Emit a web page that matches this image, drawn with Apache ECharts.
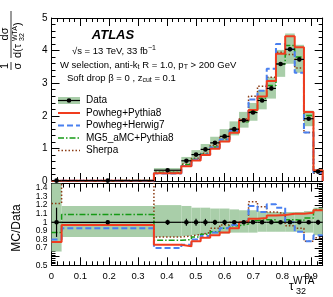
<!DOCTYPE html>
<html><head><meta charset="utf-8">
<script src="https://cdn.jsdelivr.net/npm/echarts/dist/echarts.min.js"></script>
<style>html,body{margin:0;padding:0;background:#fff}#c{width:333px;height:297px}</style>
</head><body><div id="c"></div>
<script>
// ---- data ----
const binEdges = [0, 0.035, 0.355, 0.45, 0.485, 0.517, 0.55, 0.583, 0.617, 0.65, 0.683, 0.714, 0.746, 0.778, 0.81, 0.843, 0.875, 0.908, 0.94];
const dataVals = [0.01, 0.012, 0.33, 0.62, 0.81, 0.97, 1.17, 1.37, 1.59, 1.86, 2.1, 2.47, 2.84, 3.59, 4.04, 3.73, 1.91, 0.29];
const dataStatErr = [0.002, 0.001, 0.01, 0.02, 0.03, 0.03, 0.03, 0.03, 0.03, 0.04, 0.04, 0.04, 0.05, 0.05, 0.06, 0.06, 0.04, 0.01];
const bandRelUp = [1.45, 1.19, 1.2, 1.19, 1.17, 1.17, 1.16, 1.16, 1.15, 1.14, 1.14, 1.13, 1.12, 1.12, 1.12, 1.12, 1.13, 1.17];
const bandRelDown = [0.66, 0.83, 0.83, 0.84, 0.85, 0.86, 0.86, 0.87, 0.88, 0.88, 0.88, 0.89, 0.89, 0.89, 0.89, 0.89, 0.88, 0.85];
const powhegPythia8 = [0.008, 0.012, 0.24, 0.45, 0.63, 0.80, 0.99, 1.21, 1.48, 1.86, 2.18, 2.59, 3.07, 3.90, 4.44, 4.10, 2.12, 0.33];
const powhegHerwig7 = [0.008, 0.011, 0.23, 0.46, 0.65, 0.81, 1.03, 1.27, 1.54, 1.86, 2.50, 2.77, 3.44, 4.20, 4.04, 3.32, 1.49, 0.25];
const mg5Pythia8 = [0.009, 0.013, 0.26, 0.50, 0.67, 0.83, 1.04, 1.27, 1.53, 1.82, 2.14, 2.54, 2.93, 3.59, 4.16, 3.80, 2.01, 0.33];
const sherpa = [0.012, 0.019, 0.27, 0.52, 0.70, 0.85, 1.09, 1.33, 1.59, 1.90, 2.60, 2.91, 3.18, 3.95, 3.88, 3.47, 1.49, 0.24];
const ratioStatErr = [0.17, 0.02, 0.03, 0.04, 0.04, 0.04, 0.03, 0.03, 0.02, 0.02, 0.02, 0.02, 0.02, 0.015, 0.015, 0.015, 0.02, 0.03];
const ratioPowhegPythia8 = [0.77, 0.97, 0.74, 0.72, 0.78, 0.82, 0.85, 0.88, 0.93, 1.0, 1.04, 1.05, 1.08, 1.085, 1.1, 1.1, 1.11, 1.14];
const ratioPowhegHerwig7 = [0.80, 0.93, 0.70, 0.74, 0.80, 0.84, 0.88, 0.93, 0.97, 1.0, 1.19, 1.12, 1.21, 1.17, 1.0, 0.89, 0.78, 0.85];
const ratioMg5Pythia8 = [0.88, 1.09, 0.79, 0.80, 0.83, 0.86, 0.89, 0.93, 0.96, 0.98, 1.02, 1.03, 1.03, 1.0, 1.03, 1.02, 1.05, 1.15];
const ratioSherpa = [1.22, 1.6, 0.83, 0.84, 0.86, 0.88, 0.93, 0.97, 1.0, 1.02, 1.24, 1.18, 1.12, 1.1, 0.96, 0.93, 0.78, 0.82];
const legendNames = ['Data', 'Powheg+Pythia8', 'Powheg+Herwig7', 'MG5_aMC+Pythia8', 'Sherpa'];

// ---- styling ----
const FONT = 'Liberation Sans, Arial, Helvetica, sans-serif';
const C_BAND = '#a9cea9', C_RED = '#f03c1e', C_BLUE = '#4a80f0', C_GREEN = '#169a16', C_BROWN = '#8a3a12';
const DASH_BLUE = [6, 3], DASH_GREEN = [6, 2, 1.5, 2], DASH_BROWN = [1.5, 2];

function stepPts(edges, vals, drop) {
  const pts = [];
  if (drop) pts.push([edges[0], 0]);
  for (let i = 0; i < vals.length; i++) { pts.push([edges[i], vals[i]]); pts.push([edges[i + 1], vals[i]]); }
  if (drop) pts.push([edges[edges.length - 1], 0]);
  return pts;
}
function xAx(gi, pos, showLabel) {
  return { type: 'value', gridIndex: gi, position: pos, min: 0, max: 0.94, interval: 0.1,
    axisLine: { show: true, onZero: false, lineStyle: { color: '#000', width: 1 } },
    axisTick: { show: true, inside: true, length: 8, lineStyle: { color: '#000' } },
    minorTick: { show: true, splitNumber: 5, length: 4, lineStyle: { color: '#000' } },
    splitLine: { show: false }, minorSplitLine: { show: false },
    axisLabel: { show: showLabel, fontSize: 9.5, color: '#000', margin: 6, showMinLabel: true, showMaxLabel: false, hideOverlap: false, fontFamily: FONT } };
}
function yAx(gi, pos, min, max, interval, showLabel, fs, showMax) {
  return { type: 'value', gridIndex: gi, position: pos, min, max, interval,
    axisLine: { show: true, onZero: false, lineStyle: { color: '#000', width: 1 } },
    axisTick: { show: true, inside: true, length: 8, lineStyle: { color: '#000' } },
    minorTick: { show: true, splitNumber: 5, length: 4, lineStyle: { color: '#000' } },
    splitLine: { show: false }, minorSplitLine: { show: false },
    axisLabel: { show: showLabel, fontSize: fs, color: '#000', margin: 4, showMinLabel: true, showMaxLabel: showMax, hideOverlap: false, fontFamily: FONT } };
}
function lineSeries(pts, xi, yi, color, type, width, z) {
  return { type: 'line', xAxisIndex: xi, yAxisIndex: yi, data: pts, showSymbol: false, symbol: 'none',
    animation: false, z, clip: true, silent: true,
    lineStyle: { color, width, type } };
}
function bandSeries(items, xi, yi) {
  return { type: 'custom', xAxisIndex: xi, yAxisIndex: yi, z: 1, animation: false, silent: true,
    encode: { x: [0, 1], y: [2, 3] }, data: items,
    renderItem: function (params, api) {
      const a = api.coord([api.value(0), api.value(2)]);
      const b = api.coord([api.value(1), api.value(3)]);
      const r = echarts.graphic.clipRectByRect(
        { x: a[0], y: a[1], width: b[0] - a[0], height: b[1] - a[1] },
        { x: params.coordSys.x, y: params.coordSys.y, width: params.coordSys.width, height: params.coordSys.height });
      if (!r) return null;
      return { type: 'rect', shape: r, style: { fill: C_BAND } };
    } };
}
function pointSeries(items, xi, yi) {
  return { type: 'custom', xAxisIndex: xi, yAxisIndex: yi, z: 10, animation: false, silent: true,
    encode: { x: 0, y: 1 }, data: items,
    renderItem: function (params, api) {
      const xc = api.value(0), v = api.value(1), lo = api.value(2), hi = api.value(3), e = api.value(4);
      const p = api.coord([xc, v]), pl = api.coord([lo, v]), ph = api.coord([hi, v]);
      const pt = api.coord([xc, v + e]), pb = api.coord([xc, v - e]);
      const st = { stroke: '#000', lineWidth: 1.2 };
      return { type: 'group', children: [
        { type: 'line', shape: { x1: pl[0], y1: p[1], x2: ph[0], y2: p[1] }, style: st },
        { type: 'line', shape: { x1: p[0], y1: pt[1], x2: p[0], y2: pb[1] }, style: st },
        { type: 'circle', shape: { cx: p[0], cy: p[1], r: 2.3 }, style: { fill: '#000' } }
      ] };
    } };
}

const mainBand = [], ratioBand = [], mainPts = [], ratioPts = [];
for (let i = 0; i < dataVals.length; i++) {
  const lo = binEdges[i], hi = binEdges[i + 1], xc = (lo + hi) / 2;
  mainBand.push([lo, hi, dataVals[i] * bandRelUp[i], dataVals[i] * bandRelDown[i]]);
  ratioBand.push([lo, hi, bandRelUp[i], bandRelDown[i]]);
  mainPts.push([xc, dataVals[i], lo, hi, dataStatErr[i]]);
  ratioPts.push([xc, 1, lo, hi, ratioStatErr[i]]);
}

// ---- legend & texts (graphic) ----
const legY = [100.5, 113, 125.5, 138, 150.5];
const legStyles = [null, [C_RED, 'solid', 2], [C_BLUE, DASH_BLUE, 2], [C_GREEN, DASH_GREEN, 1.5], [C_BROWN, DASH_BROWN, 1.5]];
const graphics = [];
legendNames.forEach((name, i) => {
  const y = legY[i];
  if (i === 0) {
    graphics.push({ type: 'rect', shape: { x: 58, y: y - 3.5, width: 22, height: 7 }, style: { fill: C_BAND } });
    graphics.push({ type: 'line', shape: { x1: 58, y1: y, x2: 80, y2: y }, style: { stroke: '#000', lineWidth: 1.2 } });
    graphics.push({ type: 'circle', shape: { cx: 69, cy: y, r: 2.3 }, style: { fill: '#000' } });
  } else {
    const s = legStyles[i];
    graphics.push({ type: 'line', shape: { x1: 58, y1: y, x2: 80, y2: y }, style: { stroke: s[0], lineWidth: s[2], lineDash: s[1] === 'solid' ? null : s[1] } });
  }
  graphics.push({ type: 'text', style: { text: name, x: 86, y: y, fontSize: 10, fontFamily: FONT, fill: '#000', verticalAlign: 'middle' } });
});
const rich = { sub: { fontSize: 7, padding: [5, 0, 0, 0], fontFamily: FONT }, sup: { fontSize: 7, padding: [0, 0, 5, 0], fontFamily: FONT } };
graphics.push({ type: 'text', style: { text: 'ATLAS', x: 113, y: 35, fontSize: 13, fontWeight: 'bold', fontStyle: 'italic', fontFamily: FONT, fill: '#000', align: 'center', verticalAlign: 'middle' } });
graphics.push({ type: 'text', style: { text: '√s = 13 TeV, 33 fb{sup|−1}', x: 72, y: 51, fontSize: 9.5, fontFamily: FONT, fill: '#000', verticalAlign: 'middle', rich } });
graphics.push({ type: 'text', style: { text: 'W selection, anti-k{sub|t} R = 1.0, p{sub|T} > 200 GeV', x: 60, y: 65, fontSize: 9.5, fontFamily: FONT, fill: '#000', verticalAlign: 'middle', rich } });
graphics.push({ type: 'text', style: { text: 'Soft drop β = 0 , z{sub|cut} = 0.1', x: 67, y: 78, fontSize: 9.5, fontFamily: FONT, fill: '#000', verticalAlign: 'middle', rich } });
// y title main (rotated fraction)
graphics.push({ type: 'group', x: 11, y: 70, rotation: Math.PI / 2, children: [
  { type: 'text', style: { text: '1', x: 4, y: -6, fontSize: 11, fontFamily: FONT, fill: '#000', align: 'center', verticalAlign: 'middle' } },
  { type: 'line', shape: { x1: 0, y1: 0, x2: 8, y2: 0 }, style: { stroke: '#000', lineWidth: 0.8 } },
  { type: 'text', style: { text: 'σ', x: 4, y: 6.5, fontSize: 11, fontFamily: FONT, fill: '#000', align: 'center', verticalAlign: 'middle' } },
  { type: 'text', style: { text: 'dσ', x: 36, y: -6, fontSize: 11, fontFamily: FONT, fill: '#000', align: 'center', verticalAlign: 'middle' } },
  { type: 'line', shape: { x1: 12, y1: 0, x2: 59, y2: 0 }, style: { stroke: '#000', lineWidth: 0.8 } },
  { type: 'text', style: { text: 'd(τ', x: 12, y: 7, fontSize: 11, fontFamily: FONT, fill: '#000', verticalAlign: 'middle' } },
  { type: 'text', style: { text: 'WTA', x: 29, y: 4, fontSize: 7, fontFamily: FONT, fill: '#000', verticalAlign: 'middle' } },
  { type: 'text', style: { text: '32', x: 29, y: 11, fontSize: 7, fontFamily: FONT, fill: '#000', verticalAlign: 'middle' } },
  { type: 'text', style: { text: ')', x: 44, y: 7, fontSize: 11, fontFamily: FONT, fill: '#000', verticalAlign: 'middle' } }
] });
graphics.push({ type: 'text', x: 17, y: 228, rotation: Math.PI / 2, style: { text: 'MC/Data', x: 0, y: 0, fontSize: 12, fontFamily: FONT, fill: '#000', align: 'center', verticalAlign: 'middle' } });
graphics.push({ type: 'text', style: { text: 'τ', x: 289, y: 287, fontSize: 12, fontFamily: FONT, fill: '#000', verticalAlign: 'middle' } });
graphics.push({ type: 'text', style: { text: '32', x: 296, y: 292, fontSize: 9, fontFamily: FONT, fill: '#000', verticalAlign: 'middle' } });
graphics.push({ type: 'text', style: { text: 'WTA', x: 293, y: 281, fontSize: 10, fontFamily: FONT, fill: '#000', verticalAlign: 'middle' } });

const chart = echarts.init(document.getElementById('c'), null, { renderer: 'canvas' });
chart.setOption({
  animation: false,
  backgroundColor: '#fff',
  grid: [
    { left: 51.5, top: 18, width: 271.2, height: 163, containLabel: false, outerBoundsMode: 'none' },
    { left: 51.5, top: 183.6, width: 271.2, height: 81.7, containLabel: false, outerBoundsMode: 'none' }
  ],
  xAxis: [ xAx(0, 'bottom', false), xAx(0, 'top', false), xAx(1, 'bottom', true), xAx(1, 'top', false) ],
  yAxis: [ yAx(0, 'left', 0, 5, 1, true, 10, true), yAx(0, 'right', 0, 5, 1, false, 10, true),
           yAx(1, 'left', 0.5, 1.45, 0.1, true, 8.5, false), yAx(1, 'right', 0.5, 1.45, 0.1, false, 8.5, false) ],
  series: [
    bandSeries(mainBand, 0, 0),
    lineSeries(stepPts(binEdges, sherpa, true), 0, 0, C_BROWN, DASH_BROWN, 1.5, 2),
    lineSeries(stepPts(binEdges, mg5Pythia8, true), 0, 0, C_GREEN, DASH_GREEN, 1.5, 3),
    lineSeries(stepPts(binEdges, powhegHerwig7, true), 0, 0, C_BLUE, DASH_BLUE, 2, 4),
    lineSeries(stepPts(binEdges, powhegPythia8, true), 0, 0, C_RED, 'solid', 2, 5),
    pointSeries(mainPts, 0, 0),
    bandSeries(ratioBand, 2, 2),
    lineSeries(stepPts(binEdges, ratioSherpa, false), 2, 2, C_BROWN, DASH_BROWN, 1.5, 2),
    lineSeries(stepPts(binEdges, ratioMg5Pythia8, false), 2, 2, C_GREEN, DASH_GREEN, 1.5, 3),
    lineSeries(stepPts(binEdges, ratioPowhegHerwig7, false), 2, 2, C_BLUE, DASH_BLUE, 2, 4),
    lineSeries(stepPts(binEdges, ratioPowhegPythia8, false), 2, 2, C_RED, 'solid', 2, 5),
    pointSeries(ratioPts, 2, 2)
  ],
  graphic: graphics
});
</script></body></html>
